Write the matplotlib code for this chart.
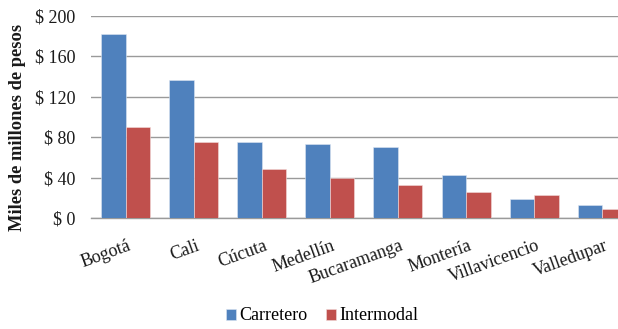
import matplotlib
matplotlib.use("Agg")
import matplotlib.pyplot as plt
import numpy as np

ciudades = ["Bogotá", "Cali", "Cúcuta", "Medellín", "Bucaramanga",
            "Montería", "Villavicencio", "Valledupar"]
carretero = [182, 137, 75, 73, 70, 42.5, 18.5, 13]
intermodal = [90, 75, 49, 39.5, 32.5, 25.5, 23, 8.5]
y_ticks = [0, 40, 80, 120, 160, 200]
y_labels = [f"$ {v}" for v in y_ticks]

AZUL = "#4F81BD"
ROJO = "#C0504D"
GRIS = "#9A9A9A"

plt.rcParams["font.family"] = ["Liberation Serif", "DejaVu Serif"]

fig = plt.figure(figsize=(6.18, 3.29), dpi=100)
# plot area runs slightly past the right edge of the figure
ax = fig.add_axes([0.148, 0.3374, 0.8816, 0.614])

x = np.arange(len(ciudades))
w = 0.36
ax.bar(x - w / 2, carretero, w, color=AZUL, edgecolor="#DCE6F2", linewidth=0.4,
       label="Carretero", zorder=3)
ax.bar(x + w / 2, intermodal, w, color=ROJO, edgecolor="#F2DCDB", linewidth=0.4,
       label="Intermodal", zorder=3)

ax.set_xlim(-0.5, len(ciudades) - 0.5)
ax.set_ylim(0, 200)
ax.set_yticks(y_ticks)
ax.set_yticklabels(y_labels)
ax.grid(True, axis="y", color=GRIS, linewidth=1.0, zorder=0)
for s in ["top", "right", "left"]:
    ax.spines[s].set_visible(False)
ax.spines["bottom"].set_color(GRIS)
ax.spines["bottom"].set_linewidth(1.0)

ax.tick_params(axis="y", length=0, pad=11.5, labelsize=13, colors="#1A1A1A")
ax.tick_params(axis="x", length=0, pad=14, labelsize=13, colors="#1A1A1A")
ax.set_xticks(x + 0.03)
ax.set_xticklabels(ciudades, rotation=20, ha="right", va="top",
                   rotation_mode="anchor")

fig.text(0.029, (329 - 127) / 329, "Miles de millones de pesos", rotation=90,
         fontsize=13.3, fontweight="bold", ha="center", va="center",
         color="#1A1A1A")

ax.legend(loc="center", bbox_to_anchor=(322 / 618, (329 - 316) / 329),
          bbox_transform=fig.transFigure, ncol=2, frameon=False, fontsize=13,
          handlelength=0.55, handleheight=0.55, handletextpad=0.2,
          columnspacing=1.0, borderaxespad=0)

fig.savefig("out.png", dpi=100)
